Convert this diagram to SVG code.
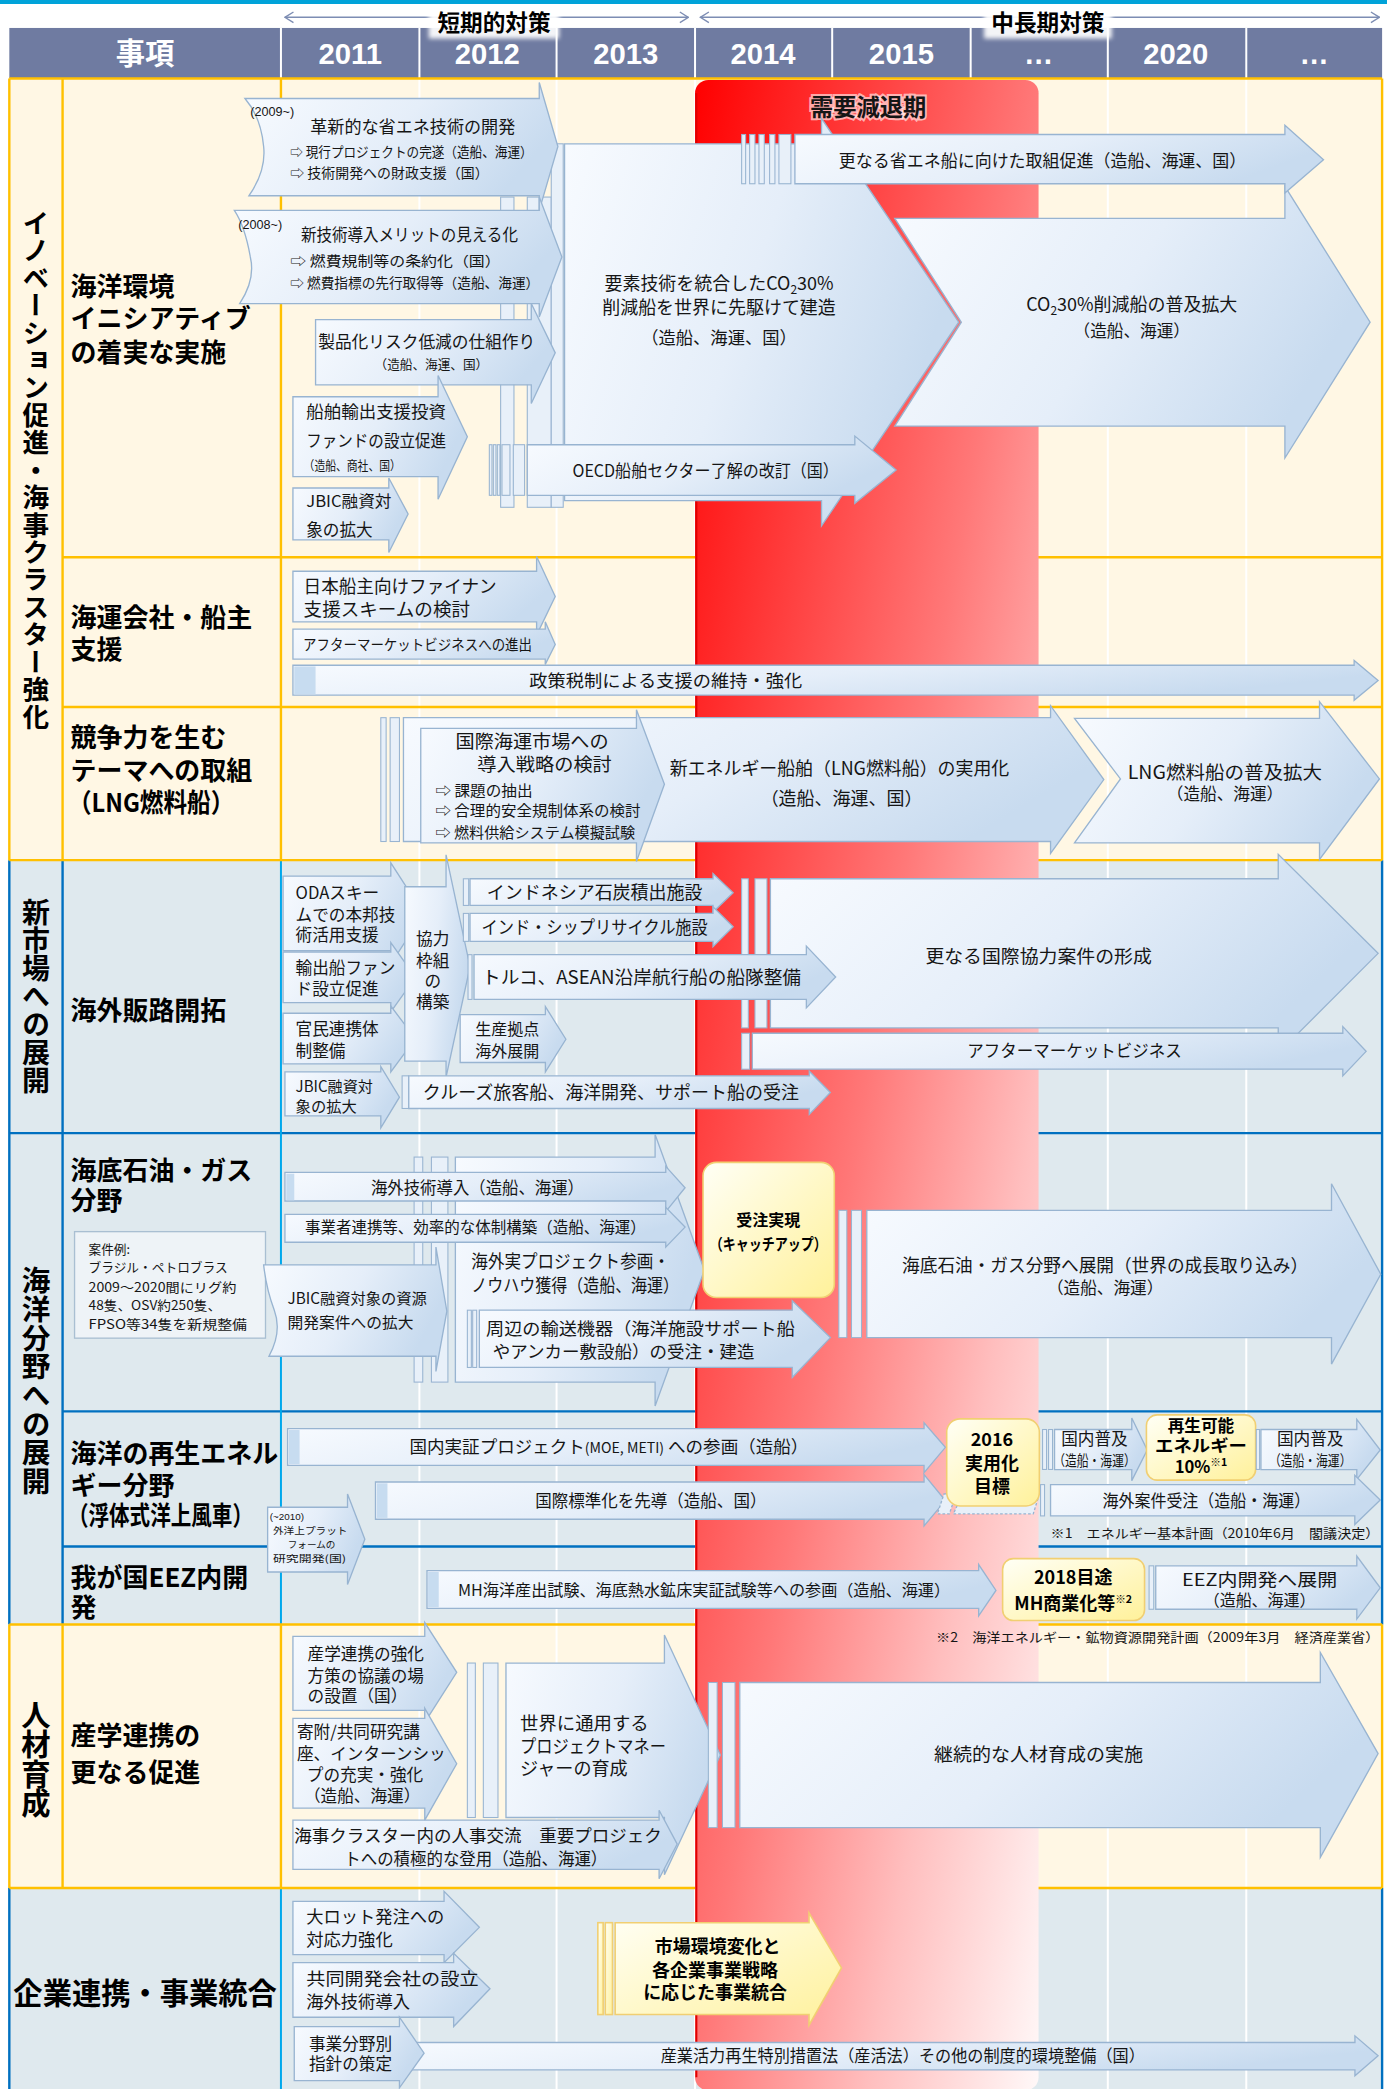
<svg xmlns="http://www.w3.org/2000/svg" width="1387" height="2089" viewBox="0 0 1387 2089">
<defs>
<linearGradient id="ag" x1="0" y1="0" x2="1" y2="0.35"><stop offset="0" stop-color="#f8fbff"/><stop offset="0.55" stop-color="#e5eef9"/><stop offset="1" stop-color="#c8dbef"/></linearGradient>
<linearGradient id="yg" x1="0" y1="0" x2="1" y2="1"><stop offset="0" stop-color="#fffff6"/><stop offset="1" stop-color="#fff19a"/></linearGradient>
<linearGradient id="rg" x1="0" y1="0" x2="1" y2="1"><stop offset="0" stop-color="#ff0000"/><stop offset="0.5" stop-color="#ff7878"/><stop offset="0.75" stop-color="#ffbebe"/><stop offset="1" stop-color="#fff8f8"/></linearGradient>
<marker id="hv" viewBox="0 0 10 10" refX="9" refY="5" markerWidth="8" markerHeight="10" orient="auto-start-reverse" markerUnits="userSpaceOnUse"><path d="M1,0 L9,5 L1,10" fill="none" stroke="#7d8db3" stroke-width="1.3"/></marker>
<filter id="blur" x="-0.2" y="-0.5" width="1.4" height="2"><feGaussianBlur stdDeviation="1.5"/></filter>
<style>
.t{font-family:"Noto Sans CJK JP","Noto Sans CJK SC",sans-serif;fill:#151515}
.l{font-family:"Liberation Sans","Noto Sans CJK JP",sans-serif;fill:#151515}
.hd{font-family:"Liberation Sans","Noto Sans CJK JP",sans-serif;font-weight:bold;fill:#fff;font-size:22px;text-anchor:middle}
.a{fill:url(#ag);stroke:#98b4d1;stroke-width:1}
.bar{fill:#e8f0f9;stroke:#98b4d1;stroke-width:0.8}
.y{fill:url(#yg);stroke:#f1cf72;stroke-width:1.2}
.m{text-anchor:middle}
.b{font-weight:bold;fill:#000}
.lb{font-weight:bold;fill:#000;font-size:19.5px}
.vt{font-weight:bold;fill:#000;writing-mode:vertical-rl;text-anchor:middle}
.gold{fill:none;stroke:#ffc000;stroke-width:1.8}
.blue{fill:none;stroke:#0070c0;stroke-width:1.8}
.lblue{fill:none;stroke:#00a8ec;stroke-width:1.5}
</style>
</defs>
<g transform="scale(1.3315)">
<!-- backgrounds -->
<rect x="0" y="0" width="1042" height="3" fill="#00a3d9"/>
<rect x="7" y="59" width="1031" height="587" fill="#fff7e4"/>
<rect x="7" y="646" width="1031" height="574" fill="#dfe9ee"/>
<rect x="7" y="1220" width="1031" height="198" fill="#fff7e4"/>
<rect x="7" y="1418" width="1031" height="151" fill="#dfe9ee"/>
<path d="M315,59 V1569 M418,59 V1569 M522,59 V1569 M625,59 V1569 M729,59 V1569 M832,59 V1569 M936,59 V1569" stroke="#ffffff" stroke-width="1.5" fill="none"/>
<!-- header -->
<g id="header">
<rect x="7" y="21" width="1031" height="37.6" fill="#6f7ba1"/>
<path d="M211,21 V58.6 M315,21 V58.6 M418,21 V58.6 M522,21 V58.6 M625,21 V58.6 M729,21 V58.6 M832,21 V58.6 M936,21 V58.6" stroke="#fff" stroke-width="1.5"/>
<text class="hd" x="109" y="48" font-family="Noto Sans CJK JP">事項</text>
<text class="hd" x="263" y="48">2011</text>
<text class="hd" x="366" y="48">2012</text>
<text class="hd" x="470" y="48">2013</text>
<text class="hd" x="573" y="48">2014</text>
<text class="hd" x="677" y="48">2015</text>
<text class="hd" x="780" y="48">…</text>
<text class="hd" x="883" y="48">2020</text>
<text class="hd" x="987" y="48">…</text>
</g>
<g id="connectors">
<line x1="214" y1="13" x2="517" y2="13" stroke="#7d8db3" stroke-width="1.2" marker-start="url(#hv)" marker-end="url(#hv)"/>
<line x1="526" y1="13" x2="1036" y2="13" stroke="#7d8db3" stroke-width="1.2" marker-start="url(#hv)" marker-end="url(#hv)"/>
</g>
<g id="term-short">
<rect x="322" y="6" width="98" height="23" fill="#fff" opacity="0.92" filter="url(#blur)"/>
<text class="t b m" x="371" y="23" font-size="17">短期的対策</text>
</g>
<g id="term-long">
<rect x="739" y="6" width="96" height="23" fill="#fff" opacity="0.92" filter="url(#blur)"/>
<text class="t b m" x="787" y="23" font-size="17">中長期対策</text>
</g>
<!-- borders -->
<path class="blue" d="M7,646 V1220 M47,646 V1220 M1038,646 V1220 M7,851 H1038 M47,1060 H1038 M47,1161.5 H1038 M7,1418 V1569 M1038,1418 V1569"/>
<path class="lblue" d="M211,646 V1220 M211,1418 V1569"/>
<path class="gold" d="M7,59 V646 M47,59 V646 M211,59 V646 M1038,59 V646 M7,59 H1038 M47,418.5 H1038 M47,531 H1038 M7,646 H1038"/>
<path class="gold" d="M7,1220 V1418 M47,1220 V1418 M211,1220 V1418 M1038,1220 V1418 M7,1220 H1038 M7,1418 H1038"/>
<!-- red period -->
<g id="decline">
<rect x="522" y="60" width="258" height="1510" rx="10" fill="url(#rg)"/>
<path d="M523,70 V1560" stroke="#e00000" stroke-width="1.5"/>
<text class="t m" x="652" y="87" font-size="17.5" font-weight="bold" fill="#ff0000" stroke="#ffffff" stroke-width="3" stroke-opacity="0.6" paint-order="stroke">需要減退期</text>
</g>
<!-- section labels -->
<g id="sec1"><text class="t vt" x="27" y="353" font-size="20" letter-spacing="0.6">イノベーション促進・海事クラスター強化</text></g>
<g id="sec2"><text class="t vt" x="27" y="748.5" font-size="21">新市場への展開</text></g>
<g id="sec3"><text class="t vt" x="27" y="1037" font-size="21.5">海洋分野への展開</text></g>
<g id="sec4"><text class="t vt" x="27" y="1321" font-size="22">人材育成</text></g>
<g id="sec5"><text class="t b m" x="109" y="1505" font-size="22">企業連携・事業統合</text></g>
<g id="sub1"><text class="t lb" x="53" y="222.6" font-size="20">海洋環境</text><text class="t lb" x="53" y="246.2" font-size="20">イニシアティブ</text><text class="t lb" x="53" y="272.2" font-size="20">の着実な実施</text></g>
<g id="sub2"><text class="t lb" x="53" y="470.6">海運会社・船主</text><text class="t lb" x="53" y="495">支援</text></g>
<g id="sub3"><text class="t lb" x="53" y="561">競争力を生む</text><text class="t lb" x="53" y="586">テーマへの取組</text><text class="t lb" x="51" y="610" textLength="125" lengthAdjust="spacingAndGlyphs">（LNG燃料船）</text></g>
<g id="sub4"><text class="t lb" x="53" y="766" font-size="22">海外販路開拓</text></g>
<g id="sub5"><text class="t lb" x="53" y="886">海底石油・ガス</text><text class="t lb" x="53" y="909">分野</text></g>
<g id="sub6"><text class="t lb" x="53" y="1099">海洋の再生エネル</text><text class="t lb" x="53" y="1122.6">ギー分野</text><text class="t lb" x="51" y="1145" font-size="18" textLength="139" lengthAdjust="spacingAndGlyphs">（浮体式洋上風車）</text></g>
<g id="sub7"><text class="t lb" x="53" y="1191.6">我が国EEZ内開</text><text class="t lb" x="53" y="1214.5">発</text></g>
<g id="sub8"><text class="t lb" x="53" y="1310.6">産学連携の</text><text class="t lb" x="53" y="1338">更なる促進</text></g>

<!-- section 1 -->
<g id="strips1">
<rect class="bar" x="376" y="148" width="10" height="233"/>
<rect class="bar" x="396" y="148" width="18" height="233"/>
<rect class="bar" x="414" y="108" width="9" height="273"/>
</g>
<g id="n-B1">
<path class="a" d="M424,108 L617,108 L617,89 L720,242 L617,395 L617,376 L424,376 Z"/>
<text class="t m" x="540" y="217.5" font-size="13.5">要素技術を統合したCO<tspan font-size="9" dy="3">2</tspan><tspan dy="-3">30%</tspan></text>
<text class="t m" x="540" y="235.5" font-size="13.5">削減船を世界に先駆けて建造</text>
<text class="t m" x="540" y="258" font-size="13">（造船、海運、国）</text>
</g>
<g id="n-B2">
<path class="a" d="M672,164 L965,164 L965,140 L1029,242 L965,344 L965,320 L672,320 L722,242 Z"/>
<text class="t m" x="850" y="233.3" font-size="13.5">CO<tspan font-size="9" dy="3">2</tspan><tspan dy="-3">30%削減船の普及拡大</tspan></text>
<text class="t m" x="850" y="253" font-size="12.5">（造船、海運）</text>
</g>
<g id="n-C1">
<rect class="bar" x="557" y="101" width="3" height="37"/><rect class="bar" x="563" y="101" width="4" height="37"/><rect class="bar" x="570" y="101" width="4" height="37"/><rect class="bar" x="578" y="101" width="4" height="37"/><rect class="bar" x="585" y="101" width="9" height="37"/>
<path class="a" d="M597,101 L965,101 L965,94 L994,120 L965,145 L965,138 L597,138 Z"/>
<text class="t" x="630" y="125.5" font-size="13" textLength="306" lengthAdjust="spacingAndGlyphs">更なる省エネ船に向けた取組促進（造船、海運、国）</text>
</g>
<g id="n-C2">
<rect class="bar" x="367.5" y="334" width="2" height="38"/><rect class="bar" x="370.5" y="334" width="2" height="38"/><rect class="bar" x="373.5" y="334" width="2" height="38"/><rect class="bar" x="377" y="334" width="6" height="38"/><rect class="bar" x="385.5" y="334" width="8.5" height="38"/>
<path class="a" d="M396,334 L642,334 L642,327.5 L673,353 L642,378 L642,372 L396,372 Z"/>
<text class="t" x="430" y="358" font-size="13" textLength="200" lengthAdjust="spacingAndGlyphs">OECD船舶セクター了解の改訂（国）</text>
</g>
<g id="n-A1">
<path class="a" d="M184,74 L405,74 L405,62 L419,110 L405,158 L405,147 L187,147 Q200,128 198,110 Q196,88 184,74 Z"/>
<text class="l" x="188" y="87" font-size="9.5">(2009~)</text>
<text class="t" x="233" y="100" font-size="12.8" textLength="154" lengthAdjust="spacingAndGlyphs">革新的な省エネ技術の開発</text>
<text class="t" x="218" y="118" font-size="10.5" textLength="182" lengthAdjust="spacingAndGlyphs">⇨ 現行プロジェクトの完遂（造船、海運）</text>
<text class="t" x="218" y="133.5" font-size="10.5" textLength="149" lengthAdjust="spacingAndGlyphs">⇨ 技術開発への財政支援（国）</text>
</g>
<g id="n-A2">
<path class="a" d="M176,158 L405,158 L405,148 L422,193 L405,238 L405,228 L180,228 Q192,210 188,193 Q184,170 176,158 Z"/>
<text class="l" x="179" y="172" font-size="9.5">(2008~)</text>
<text class="t" x="226" y="181" font-size="12.8" textLength="163" lengthAdjust="spacingAndGlyphs">新技術導入メリットの見える化</text>
<text class="t" x="218" y="200" font-size="10.5" textLength="158" lengthAdjust="spacingAndGlyphs">⇨ 燃費規制等の条約化（国）</text>
<text class="t" x="218" y="216" font-size="10.5" textLength="187" lengthAdjust="spacingAndGlyphs">⇨ 燃費指標の先行取得等（造船、海運）</text>
</g>
<g id="n-A3">
<path class="a" d="M237,240 L399,240 L399,228 L417,265 L399,303 L399,289 L237,289 Z"/>
<text class="t" x="239" y="261.5" font-size="12.8" textLength="163" lengthAdjust="spacingAndGlyphs">製品化リスク低減の仕組作り</text>
<text class="t m" x="324" y="277.5" font-size="9.5">（造船、海運、国）</text>
</g>
<g id="n-A4">
<path class="a" d="M220,298 L329,298 L329,282 L351,328 L329,375 L329,358 L220,358 Z"/>
<text class="t" x="230" y="314" font-size="12.5" textLength="105" lengthAdjust="spacingAndGlyphs">船舶輸出支援投資</text>
<text class="t" x="230" y="335.5" font-size="12.5" textLength="105" lengthAdjust="spacingAndGlyphs">ファンドの設立促進</text>
<text class="t" x="228" y="353" font-size="9.5" textLength="73" lengthAdjust="spacingAndGlyphs">（造船、商社、国）</text>
</g>
<g id="n-A5">
<path class="a" d="M220,366.5 L292,366.5 L292,359 L306.5,386 L292,415 L292,405.5 L220,405.5 Z"/>
<text class="t" x="230" y="381" font-size="12" textLength="64" lengthAdjust="spacingAndGlyphs">JBIC融資対</text>
<text class="t" x="230" y="402.5" font-size="12.5">象の拡大</text>
</g>
<g id="n-D1">
<path class="a" d="M220,429 L403,429 L403,418 L417,448 L403,477 L403,467 L220,467 Z"/>
<text class="t" x="228" y="445" font-size="13.5" textLength="145" lengthAdjust="spacingAndGlyphs">日本船主向けファイナン</text>
<text class="t" x="228" y="463" font-size="13.5" textLength="125" lengthAdjust="spacingAndGlyphs">支援スキームの検討</text>
</g>
<g id="n-D2">
<path class="a" d="M220,472.5 L409.5,472.5 L409.5,467 L417,484 L409.5,499 L409.5,495 L220,495 Z"/>
<text class="t" x="227.6" y="488.5" font-size="11" textLength="172" lengthAdjust="spacingAndGlyphs">アフターマーケットビジネスへの進出</text>
</g>
<g id="n-D3">
<path class="a" d="M220,499.6 L1017,499.6 L1017,496 L1035,511 L1017,526 L1017,522 L220,522 Z"/>
<rect x="221" y="500.5" width="16" height="21" fill="#c7dcf0"/>
<text class="t m" x="500" y="516" font-size="13" textLength="205" lengthAdjust="spacingAndGlyphs">政策税制による支援の維持・強化</text>
</g>
<g id="n-E2">
<rect class="bar" x="286" y="539" width="4" height="93"/><rect class="bar" x="293" y="539" width="7" height="93"/>
<path class="a" d="M303,539 L789,539 L789,530 L829,585.5 L789,641 L789,632 L303,632 Z"/>
<text class="t" x="503" y="582" font-size="13.5" textLength="255" lengthAdjust="spacingAndGlyphs">新エネルギー船舶（LNG燃料船）の実用化</text>
<text class="t m" x="632" y="604.5" font-size="13.5">（造船、海運、国）</text>
</g>
<g id="n-E1">
<path class="a" d="M316,547 L478,547 L478,533 L499,589 L478,647 L478,633 L316,633 Z"/>
<text class="t m" x="399.6" y="561.5" font-size="13.5" textLength="115" lengthAdjust="spacingAndGlyphs">国際海運市場への</text>
<text class="t m" x="409" y="579" font-size="13.5" textLength="101" lengthAdjust="spacingAndGlyphs">導入戦略の検討</text>
<text class="t" x="327" y="597.6" font-size="11" textLength="73" lengthAdjust="spacingAndGlyphs">⇨ 課題の抽出</text>
<text class="t" x="327" y="613" font-size="11" textLength="154" lengthAdjust="spacingAndGlyphs">⇨ 合理的安全規制体系の検討</text>
<text class="t" x="327" y="629" font-size="11" textLength="150" lengthAdjust="spacingAndGlyphs">⇨ 燃料供給システム模擬試験</text>
</g>
<g id="n-E3">
<path class="a" d="M807,539.5 L991,539.5 L991,527 L1036,585 L991,645.5 L991,633 L807,633 L841.5,585 Z"/>
<text class="t m" x="920" y="585" font-size="13.5" textLength="146" lengthAdjust="spacingAndGlyphs">LNG燃料船の普及拡大</text>
<text class="t m" x="920" y="601" font-size="12.5">（造船、海運）</text>
</g>

<!-- section 2 -->
<g id="n-F1"><path class="a" d="M212.6,658 L293.5,658 L293.5,648 L318,686 L293.5,724 L293.5,714 L212.6,714 Z"/>
<text class="t" x="222" y="675.5" font-size="12.5">ODAスキー</text><text class="t" x="222" y="691.5" font-size="12.5">ムでの本邦技</text><text class="t" x="222" y="707" font-size="12.5">術活用支援</text></g>
<g id="n-F2"><path class="a" d="M212.6,715 L293.5,715 L293.5,708 L312,734 L293.5,760 L293.5,753 L212.6,753 Z"/>
<text class="t" x="222" y="731.5" font-size="12.5">輸出船ファン</text><text class="t" x="222" y="747.5" font-size="12.5">ド設立促進</text></g>
<g id="n-F3"><path class="a" d="M212.6,761 L293.5,761 L293.5,755.6 L312,780 L293.5,805 L293.5,799 L212.6,799 Z"/>
<text class="t" x="222" y="777.5" font-size="12.5">官民連携体</text><text class="t" x="222" y="793.5" font-size="12.5">制整備</text></g>
<g id="n-F4"><path class="a" d="M214,805 L286,805 L286,801 L300,824 L286,847 L286,838 L214,838 Z"/>
<text class="t" x="222" y="820" font-size="11.5" textLength="58" lengthAdjust="spacingAndGlyphs">JBIC融資対</text><text class="t" x="222" y="835.5" font-size="11.5">象の拡大</text></g>
<g id="n-coop"><path class="a" d="M304,666 L335,666 L335,642 L353,726 L335,809 L335,797 L304,797 Z"/>
<text class="t m" x="325" y="710" font-size="12.5">協力</text><text class="t m" x="325" y="726" font-size="12.5">枠組</text><text class="t m" x="325" y="741.5" font-size="12.5">の</text><text class="t m" x="325" y="757" font-size="12.5">構築</text></g>
<g id="n-H1">
<rect class="bar" x="557" y="660" width="5" height="112"/><rect class="bar" x="567" y="660" width="9" height="112"/>
<path class="a" d="M578.6,660 L960,660 L960,641.6 L1035,716 L960,791 L960,772 L578.6,772 Z"/>
<text class="t m" x="780" y="723.3" font-size="13.5" textLength="170" lengthAdjust="spacingAndGlyphs">更なる国際協力案件の形成</text>
</g>
<g id="n-H2">
<rect class="bar" x="557" y="776" width="6" height="27"/>
<path class="a" d="M565,776 L1008.5,776 L1008.5,771 L1026,789.6 L1008.5,808 L1008.5,803 L565,803 Z"/>
<text class="t m" x="807" y="794" font-size="13" textLength="161" lengthAdjust="spacingAndGlyphs">アフターマーケットビジネス</text>
</g>
<g id="n-G1"><rect class="bar" x="348" y="660" width="4" height="20"/><path class="a" d="M353,660 L535.5,660 L535.5,656 L550.6,670.5 L535.5,685 L535.5,680 L353,680 Z"/>
<text class="t" x="365.6" y="675.5" font-size="13.5" textLength="162" lengthAdjust="spacingAndGlyphs">インドネシア石炭積出施設</text></g>
<g id="n-G2"><rect class="bar" x="348" y="686" width="4" height="21"/><path class="a" d="M353,686 L535.5,686 L535.5,681 L550.6,696 L535.5,711 L535.5,707 L353,707 Z"/>
<text class="t" x="361.6" y="701.3" font-size="13.5" textLength="170" lengthAdjust="spacingAndGlyphs">インド・シップリサイクル施設</text></g>
<g id="n-G3"><rect class="bar" x="351.5" y="717" width="3" height="33.6"/><path class="a" d="M356,717 L605.6,717 L605.6,710.6 L627.6,733.8 L605.6,757 L605.6,750.6 L356,750.6 Z"/>
<text class="t" x="362" y="738.8" font-size="13.5" textLength="239.6" lengthAdjust="spacingAndGlyphs">トルコ、ASEAN沿岸航行船の船隊整備</text></g>
<g id="n-G4"><path class="a" d="M345.6,762 L409.6,762 L409.6,756 L425,780.5 L409.6,805 L409.6,798 L345.6,798 Z"/>
<text class="t" x="357" y="777.5" font-size="12">生産拠点</text><text class="t" x="357" y="793.5" font-size="12">海外展開</text></g>
<g id="n-G5"><rect class="bar" x="302" y="808" width="5" height="24.5"/><path class="a" d="M307,808 L607.8,808 L607.8,804.5 L623.6,820.5 L607.8,837 L607.8,832.5 L307,832.5 Z"/>
<text class="t" x="317.5" y="825.5" font-size="13.5" textLength="282.5" lengthAdjust="spacingAndGlyphs">クルーズ旅客船、海洋開発、サポート船の受注</text></g>

<!-- section 3 -->
<g id="n-I0">
<rect class="bar" x="311" y="869" width="6.5" height="169"/><rect class="bar" x="324" y="869" width="12.4" height="169"/>
<path class="a" d="M342,869 L492,869 L492,852 L529,954 L492,1056 L492,1038 L342,1038 Z"/>
<text class="t" x="354" y="952.5" font-size="13.5" textLength="149" lengthAdjust="spacingAndGlyphs">海外実プロジェクト参画・</text>
<text class="t" x="354" y="970" font-size="13.5" textLength="156" lengthAdjust="spacingAndGlyphs">ノウハウ獲得（造船、海運）</text>
</g>
<g id="n-I1"><path class="a" d="M214,880.5 L500,880.5 L500,876 L514.5,892 L500,910 L500,902 L214,902 Z"/><rect x="215" y="881.5" width="6" height="20" fill="#c7dcf0"/>
<text class="t m" x="358.6" y="896.6" font-size="13" textLength="160" lengthAdjust="spacingAndGlyphs">海外技術導入（造船、海運）</text></g>
<g id="n-I2"><path class="a" d="M214,912 L500,912 L500,906.7 L514.5,921.6 L500,936.7 L500,933 L214,933 Z"/>
<text class="t m" x="357" y="926.3" font-size="12" textLength="256" lengthAdjust="spacingAndGlyphs">事業者連携等、効率的な体制構築（造船、海運）</text></g>
<g id="n-I3"><rect class="bar" x="351" y="984" width="3" height="43"/><rect class="bar" x="355" y="984" width="3" height="43"/><path class="a" d="M360,984 L595,984 L595,977 L623.6,1004.6 L595,1034.6 L595,1027 L360,1027 Z"/>
<text class="t" x="365" y="1003" font-size="13" textLength="232" lengthAdjust="spacingAndGlyphs">周辺の輸送機器（海洋施設サポート船</text>
<text class="t" x="370" y="1020" font-size="13" textLength="196.6" lengthAdjust="spacingAndGlyphs">やアンカー敷設船）の受注・建造</text></g>
<g id="n-J1"><rect x="56" y="925" width="143.4" height="80" fill="#eef3f7" stroke="#a9bfd2" stroke-width="1"/>
<text class="t" x="66.5" y="941.6" font-size="9.5">案件例:</text>
<text class="t" x="66.5" y="955.6" font-size="9.5" textLength="104.5" lengthAdjust="spacingAndGlyphs">ブラジル・ペトロブラス</text>
<text class="t" x="66.5" y="970" font-size="9.5" textLength="111" lengthAdjust="spacingAndGlyphs">2009～2020間にリグ約</text>
<text class="t" x="66.5" y="983.8" font-size="9.5" textLength="99.6" lengthAdjust="spacingAndGlyphs">48隻、OSV約250隻、</text>
<text class="t" x="66.5" y="997.8" font-size="9.5" textLength="119" lengthAdjust="spacingAndGlyphs">FPSO等34隻を新規整備</text></g>
<g id="n-J2"><path class="a" d="M198,950 L327.4,950 L327.4,936.6 L335.6,984.7 L327.4,1030 L327.4,1018.6 L202,1018.6 Q212,1000 206,984 Q200,968 198,950 Z"/>
<text class="t" x="216" y="979.5" font-size="11.5" textLength="104.6" lengthAdjust="spacingAndGlyphs">JBIC融資対象の資源</text>
<text class="t" x="216" y="997.5" font-size="11.5" textLength="94.6" lengthAdjust="spacingAndGlyphs">開発案件への拡大</text></g>
<g id="n-K"><rect class="y" x="528" y="873" width="98.6" height="101.5" rx="10"/>
<text class="t b m" x="577" y="921" font-size="12">受注実現</text>
<text class="t b m" x="577" y="938.5" font-size="12" textLength="88" lengthAdjust="spacingAndGlyphs">（キャッチアップ）</text></g>
<g id="n-K2"><rect class="bar" x="630" y="909" width="6" height="95.6"/><rect class="bar" x="639.5" y="909" width="7.5" height="95.6"/>
<path class="a" d="M651,909 L1000,909 L1000,889 L1037,957 L1000,1024.5 L1000,1004.6 L651,1004.6 Z"/>
<text class="t m" x="830" y="955.5" font-size="13.5" textLength="305" lengthAdjust="spacingAndGlyphs">海底石油・ガス分野へ展開（世界の成長取り込み）</text>
<text class="t m" x="830" y="971.5" font-size="12.5">（造船、海運）</text></g>
<g id="n-L1"><path class="a" d="M216,1073 L694,1073 L694,1068.6 L710,1087 L694,1106 L694,1100.6 L216,1100.6 Z"/><rect x="217" y="1074" width="8" height="25.6" fill="#c7dcf0"/>
<text class="t" x="307.6" y="1091.6" font-size="13" textLength="299.4" lengthAdjust="spacingAndGlyphs">国内実証プロジェクト<tspan font-size="10.5">(MOE, METI)</tspan> への参画（造船）</text></g>
<g id="n-L2"><path class="a" d="M282,1113 L694,1113 L694,1107.5 L710,1127 L694,1146 L694,1141 L282,1141 Z"/><rect x="283" y="1114" width="8" height="26" fill="#c7dcf0"/>
<text class="t" x="402" y="1131.6" font-size="13" textLength="173.6" lengthAdjust="spacingAndGlyphs">国際標準化を先導（造船、国）</text></g>
<g id="n-L3"><path class="a" d="M201,1132 L261,1132 L261,1122 L274,1156 L261,1190 L261,1180.6 L201,1180.6 Z"/>
<text class="l" x="202.6" y="1141.5" font-size="7.4">(~2010)</text>
<text class="t" x="205" y="1152" font-size="7.2" textLength="56" lengthAdjust="spacingAndGlyphs">外洋上プラット</text>
<text class="t m" x="234" y="1162.5" font-size="7.2">フォームの</text>
<text class="t" x="205" y="1173" font-size="7.2" textLength="55" lengthAdjust="spacingAndGlyphs">研究開発(国)</text></g>
<g id="n-M1"><path d="M709,1122 L718,1122 L713,1137 L704,1137 Z M722,1124 L780,1124 L776,1137 L716,1137 Z" fill="#e8f0f9" stroke="#98b4d1" stroke-dasharray="2,1.5"/>
<rect class="y" x="711" y="1065.6" width="69.6" height="65.4" rx="10"/>
<text class="t b m" x="745" y="1086" font-size="13.5">2016</text><text class="t b m" x="745" y="1104" font-size="13.5">実用化</text><text class="t b m" x="745" y="1121.5" font-size="13.5">目標</text></g>
<g id="n-M2"><rect class="bar" x="783" y="1073.6" width="3" height="30"/><rect class="bar" x="787.5" y="1073.6" width="3" height="30"/><path class="a" d="M792,1073.6 L850,1073.6 L850,1065 L861.6,1089 L850,1112 L850,1103.7 L792,1103.7 Z"/>
<text class="t m" x="822" y="1085.6" font-size="12.5">国内普及</text><text class="t m" x="822" y="1101" font-size="11" textLength="62" lengthAdjust="spacingAndGlyphs">（造船・海運）</text></g>
<g id="n-M3"><rect class="y" x="861" y="1062.6" width="82" height="49" rx="8"/>
<text class="t b m" x="902" y="1075.5" font-size="12.5">再生可能</text>
<text class="t b m" x="902" y="1090.8" font-size="12.5" textLength="69" lengthAdjust="spacingAndGlyphs">エネルギー</text>
<text class="t b m" x="902" y="1106" font-size="12.5">10%<tspan font-size="8" dy="-5">※1</tspan></text></g>
<g id="n-M4"><rect class="bar" x="943.5" y="1073.6" width="2.5" height="30"/><path class="a" d="M947,1073.6 L1019,1073.6 L1019,1066 L1036.6,1089 L1019,1111 L1019,1103.7 L947,1103.7 Z"/>
<text class="t m" x="984" y="1085.6" font-size="12.5">国内普及</text><text class="t m" x="984" y="1101" font-size="11" textLength="62" lengthAdjust="spacingAndGlyphs">（造船・海運）</text></g>
<g id="n-M5"><rect class="bar" x="781.5" y="1115" width="3" height="23.5"/><path class="a" d="M789,1115 L1017.5,1115 L1017.5,1108 L1036.6,1126.5 L1017.5,1145 L1017.5,1138.5 L789,1138.5 Z"/>
<text class="t m" x="906" y="1131.6" font-size="13" textLength="156" lengthAdjust="spacingAndGlyphs">海外案件受注（造船・海運）</text></g>
<g id="note1"><text class="t" x="789" y="1155" font-size="9.5" textLength="247" lengthAdjust="spacingAndGlyphs">※1　エネルギー基本計画（2010年6月　閣議決定）</text></g>
<g id="n-N1"><path class="a" d="M320.7,1179.6 L735,1179.6 L735,1175 L748,1194.5 L735,1213.5 L735,1208 L320.7,1208 Z"/><rect x="321.5" y="1180.5" width="8" height="26.6" fill="#c7dcf0"/>
<text class="t" x="344" y="1198.8" font-size="12" textLength="369.5" lengthAdjust="spacingAndGlyphs">MH海洋産出試験、海底熱水鉱床実証試験等への参画（造船、海運）</text></g>
<g id="n-N2"><rect class="y" x="753" y="1170.6" width="106.6" height="46.4" rx="8"/>
<text class="t b m" x="806" y="1190" font-size="13.5">2018目途</text>
<text class="t b m" x="806" y="1209" font-size="13.5">MH商業化等<tspan font-size="8" dy="-5">※2</tspan></text></g>
<g id="n-N3"><rect class="bar" x="863" y="1176" width="3.5" height="32.6"/><path class="a" d="M868,1176 L1019,1176 L1019,1168.6 L1036.6,1192.5 L1019,1216 L1019,1208.6 L868,1208.6 Z"/>
<text class="t m" x="946" y="1191.4" font-size="13" textLength="116.6" lengthAdjust="spacingAndGlyphs">EEZ内開発へ展開</text>
<text class="t m" x="946" y="1206.5" font-size="12">（造船、海運）</text></g>
<g id="note2"><text class="t" x="703" y="1233" font-size="9.5" textLength="333" lengthAdjust="spacingAndGlyphs">※2　海洋エネルギー・鉱物資源開発計画（2009年3月　経済産業省）</text></g>

<!-- section 4 -->
<g id="n-O4"><rect class="bar" x="351" y="1249" width="6" height="116"/><rect class="bar" x="363" y="1249" width="11" height="116"/>
<path class="a" d="M380,1249 L499,1249 L499,1228 L541,1318 L499,1408 L499,1365 L380,1365 Z"/>
<text class="t" x="390.6" y="1299.6" font-size="13.5" textLength="96.6" lengthAdjust="spacingAndGlyphs">世界に通用する</text>
<text class="t" x="390.6" y="1316.6" font-size="13.5" textLength="109.6" lengthAdjust="spacingAndGlyphs">プロジェクトマネー</text>
<text class="t" x="390.6" y="1333" font-size="13.5" textLength="80.8" lengthAdjust="spacingAndGlyphs">ジャーの育成</text></g>
<g id="n-O1"><path class="a" d="M220,1229 L319,1229 L319,1218.6 L343,1256 L319,1293.6 L319,1284.6 L220,1284.6 Z"/>
<text class="t" x="231" y="1247" font-size="12.5">産学連携の強化</text><text class="t" x="231" y="1263" font-size="12.5">方策の協議の場</text><text class="t" x="231" y="1278.5" font-size="12.5">の設置（国）</text></g>
<g id="n-O2"><path class="a" d="M220,1290.6 L319,1290.6 L319,1283 L343,1324.6 L319,1367 L319,1358 L220,1358 Z"/>
<text class="t" x="223" y="1305.5" font-size="12.5">寄附/共同研究講</text><text class="t" x="223" y="1321.5" font-size="12.5">座、インターンシッ</text><text class="t" x="230.4" y="1337.5" font-size="12.5">プの充実・強化</text><text class="t m" x="272" y="1353.5" font-size="12.5">（造船、海運）</text></g>
<g id="n-O3"><path class="a" d="M220,1367 L495,1367 L495,1359.6 L508.6,1385 L495,1411 L495,1404 L220,1404 Z"/>
<text class="t" x="221" y="1383.6" font-size="13" textLength="276" lengthAdjust="spacingAndGlyphs">海事クラスター内の人事交流　重要プロジェク</text>
<text class="t" x="258.6" y="1400.6" font-size="13" textLength="197.5" lengthAdjust="spacingAndGlyphs">トへの積極的な登用（造船、海運）</text></g>
<g id="n-O5"><rect class="bar" x="532" y="1263.6" width="6.6" height="109"/><rect class="bar" x="542.6" y="1263.6" width="9.4" height="109"/>
<path class="a" d="M555.6,1263.6 L991.6,1263.6 L991.6,1241 L1035,1317 L991.6,1395 L991.6,1372.6 L555.6,1372.6 Z"/>
<text class="t m" x="780" y="1322.6" font-size="14" textLength="157" lengthAdjust="spacingAndGlyphs">継続的な人材育成の実施</text></g>

<!-- section 5 -->
<g id="n-P1"><path class="a" d="M220,1428 L333.5,1428 L333.5,1420.5 L360,1447.5 L333.5,1474 L333.5,1468 L220,1468 Z"/>
<text class="t" x="230" y="1444.5" font-size="13" textLength="103.6" lengthAdjust="spacingAndGlyphs">大ロット発注への</text><text class="t" x="230" y="1461.5" font-size="13">対応力強化</text></g>
<g id="n-P2"><path class="a" d="M220,1474 L340.7,1474 L340.7,1467 L368,1493.6 L340.7,1522 L340.7,1515 L220,1515 Z"/>
<text class="t" x="230" y="1490.6" font-size="13" textLength="129.4" lengthAdjust="spacingAndGlyphs">共同開発会社の設立</text><text class="t" x="230" y="1508" font-size="13">海外技術導入</text></g>
<g id="n-P4"><path class="a" d="M300,1534 L1017.6,1534 L1017.6,1529 L1035,1544 L1017.6,1559 L1017.6,1554.6 L300,1554.6 Z"/>
<text class="t m" x="678" y="1548.3" font-size="12.5" textLength="363.6" lengthAdjust="spacingAndGlyphs">産業活力再生特別措置法（産活法）その他の制度的環境整備（国）</text></g>
<g id="n-P3"><path class="a" d="M221,1522 L300,1522 L300,1515 L318.5,1542 L300,1568 L300,1562.6 L221,1562.6 Z"/>
<text class="t" x="232" y="1539.5" font-size="12.5">事業分野別</text><text class="t" x="232" y="1555" font-size="12.5">指針の策定</text></g>
<g id="n-P5"><rect class="y" x="449" y="1444" width="4" height="69"/><rect class="y" x="454.6" y="1444" width="5.4" height="69"/>
<path class="y" d="M462,1444 L607.6,1444 L607.6,1436.6 L632,1478 L607.6,1521 L607.6,1513 L462,1513 Z"/>
<text class="t b m" x="539" y="1467" font-size="13.5">市場環境変化と</text>
<text class="t b m" x="537" y="1484.6" font-size="13.5">各企業事業戦略</text>
<text class="t b m" x="537" y="1501.6" font-size="13.5">に応じた事業統合</text></g>
</g>
</svg>
